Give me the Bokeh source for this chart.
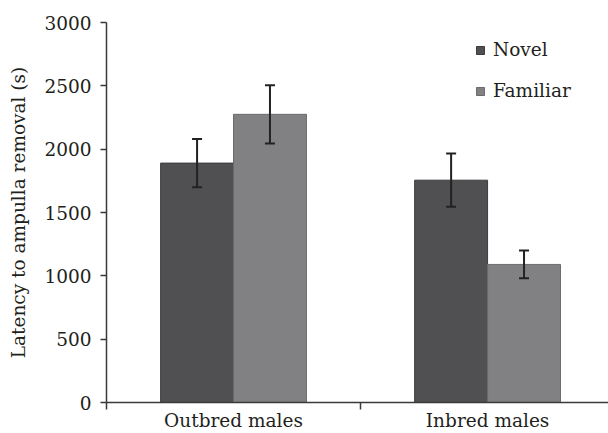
from bokeh.plotting import figure
from bokeh.models import Range1d, FixedTicker, Legend, LegendItem, Whisker, ColumnDataSource
from bokeh.embed import file_html
from bokeh.resources import INLINE

categories = ["Outbred males", "Inbred males"]
series = ["Novel", "Familiar"]
novel = [1890, 1755]
familiar = [2275, 1090]
novel_err = [190, 210]
familiar_err = [230, 110]
y_ticks = [0, 500, 1000, 1500, 2000, 2500, 3000]

FONT = "DejaVu Serif"
TXT = "#231f20"

p = figure(width=608, height=433, output_backend="svg", toolbar_location=None,
           x_range=Range1d(0, 1.976), y_range=Range1d(0, 3000),
           min_border_left=106, min_border_right=0, min_border_top=22, min_border_bottom=30)
p.outline_line_color = None
p.xgrid.visible = False
p.ygrid.visible = False
p.background_fill_color = "white"
p.border_fill_color = "white"

bw = 0.287
off = bw / 2
centers = [i + 0.5 for i in range(len(categories))]
src_n = ColumnDataSource(dict(x=[c - off for c in centers], top=novel,
                              lo=[v - e for v, e in zip(novel, novel_err)],
                              hi=[v + e for v, e in zip(novel, novel_err)]))
src_f = ColumnDataSource(dict(x=[c + off for c in centers], top=familiar,
                              lo=[v - e for v, e in zip(familiar, familiar_err)],
                              hi=[v + e for v, e in zip(familiar, familiar_err)]))

rn = p.vbar(x="x", top="top", bottom=0, width=bw, source=src_n,
            fill_color="#505052", line_color="#3c3c3e", line_width=1)
rf = p.vbar(x="x", top="top", bottom=0, width=bw, source=src_f,
            fill_color="#818184", line_color="#6a6a6c", line_width=1)

for s in (src_n, src_f):
    w = Whisker(source=s, base="x", upper="hi", lower="lo",
                line_color="#222222", line_width=2, level="overlay")
    for h in (w.upper_head, w.lower_head):
        h.size = 10
        h.line_width = 2
        h.line_color = "#222222"
    p.add_layout(w)

# axes
p.xaxis.ticker = FixedTicker(ticks=centers, minor_ticks=[0, 1, 2])
p.xaxis.major_label_overrides = {c: cat for c, cat in zip(centers, categories)}
p.xaxis.major_tick_out = 0
p.xaxis.major_tick_in = 0
p.xaxis.minor_tick_out = 7
p.xaxis.minor_tick_in = 0
p.xaxis.major_label_standoff = 0
p.yaxis.ticker = FixedTicker(ticks=y_ticks)
p.yaxis.major_tick_out = 6
p.yaxis.major_tick_in = 0
p.yaxis.major_label_standoff = 9
p.yaxis.axis_label = "Latency to ampulla removal (s)"
p.yaxis.axis_label_standoff = 12
for ax in (p.xaxis[0], p.yaxis[0]):
    ax.axis_line_color = "#3a3a3a"
    ax.axis_line_width = 1.5
    ax.major_tick_line_color = "#3a3a3a"
    ax.major_tick_line_width = 1.5
    ax.minor_tick_line_color = "#3a3a3a"
    ax.minor_tick_line_width = 1.5
    ax.major_label_text_font = FONT
    ax.major_label_text_font_size = "18.5px"
    ax.major_label_text_color = TXT
    ax.axis_label_text_font = FONT
    ax.axis_label_text_font_size = "18.5px"
    ax.axis_label_text_font_style = "normal"
    ax.axis_label_text_color = TXT
p.yaxis.minor_tick_line_color = None

legend = Legend(items=[LegendItem(label=series[0], renderers=[rn]),
                       LegendItem(label=series[1], renderers=[rf])],
                location=(369, 301), padding=0, margin=0, spacing=20,
                glyph_width=10, glyph_height=10, label_height=20,
                label_standoff=8, border_line_color=None, background_fill_alpha=0,
                label_text_font=FONT, label_text_font_size="18.5px",
                label_text_color=TXT)
p.add_layout(legend)

open("out.html", "w").write(file_html(p, INLINE))
